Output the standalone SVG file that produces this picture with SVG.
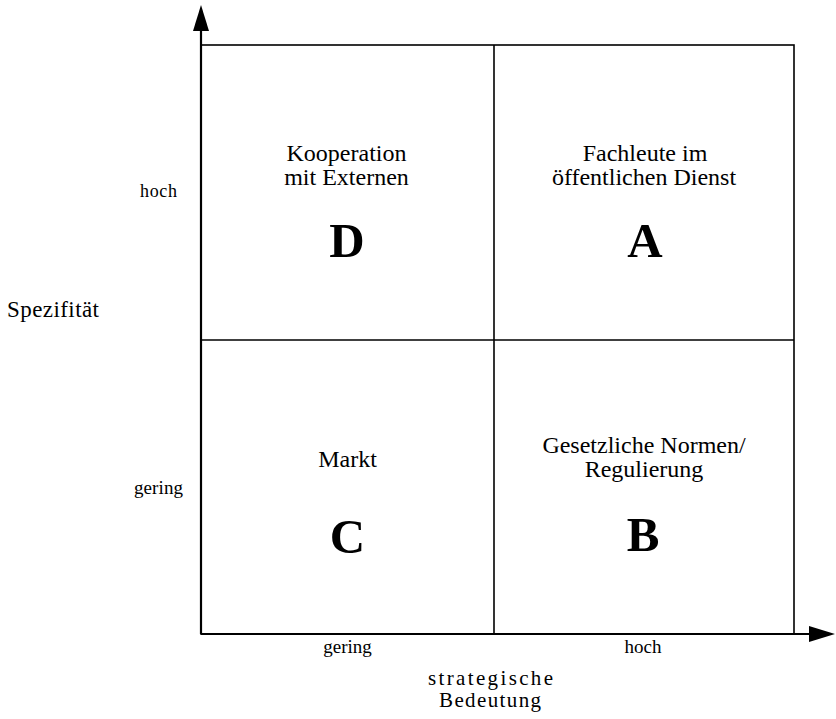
<svg xmlns="http://www.w3.org/2000/svg" width="836" height="719" viewBox="0 0 836 719">
<style>
.t{font-family:"Liberation Serif","Times New Roman",serif;fill:#000}
.c{font-size:24px;text-anchor:middle}
.big{font-size:49px;font-weight:bold;text-anchor:middle}
.s{font-size:19px}
.m{text-anchor:middle}
.g{stroke:#000;stroke-width:1.6;fill:none}
.ax{stroke:#000;stroke-width:2.2;fill:none}
</style>
<rect width="836" height="719" fill="#fff"/>
<g id="connectors">
<rect class="g" x="201" y="45" width="593" height="589"/>
<line class="g" x1="494" y1="45" x2="494" y2="634"/>
<line class="g" x1="201" y1="340" x2="794" y2="340"/>
<line class="ax" x1="201" y1="634" x2="201" y2="26"/>
<polygon points="201,5 193,31 209,31" fill="#000"/>
<line class="ax" x1="201" y1="634" x2="814" y2="634"/>
<polygon points="835,634 809,626 809,642" fill="#000"/>
</g>
<g id="cell-D">
<text class="t c" x="346.5" y="161">Kooperation</text>
<text class="t c" x="346.5" y="185">mit Externen</text>
<text class="t big" x="347" y="257">D</text>
</g>
<g id="cell-A">
<text class="t c" x="645" y="161">Fachleute im</text>
<text class="t c" x="644" y="185">öffentlichen Dienst</text>
<text class="t big" x="645" y="257">A</text>
</g>
<g id="cell-C">
<text class="t c" x="347.5" y="466.5">Markt</text>
<text class="t big" x="347.5" y="553">C</text>
</g>
<g id="cell-B">
<text class="t c" x="644" y="453">Gesetzliche Normen/</text>
<text class="t c" x="644" y="477">Regulierung</text>
<text class="t big" x="643" y="551">B</text>
</g>
<g id="y-axis-labels">
<text class="t" x="140" y="197" font-size="18" textLength="37">hoch</text>
<text class="t s" x="134" y="494" textLength="49">gering</text>
<text class="t" x="7" y="317" font-size="23" textLength="92">Spezifität</text>
</g>
<g id="x-axis-labels">
<text class="t s m" x="347.5" y="653">gering</text>
<text class="t s m" x="643" y="653">hoch</text>
<text class="t m" x="490.5" y="685" font-size="21" textLength="125">strategische</text>
<text class="t m" x="490" y="707" font-size="21" textLength="102">Bedeutung</text>
</g>
</svg>
